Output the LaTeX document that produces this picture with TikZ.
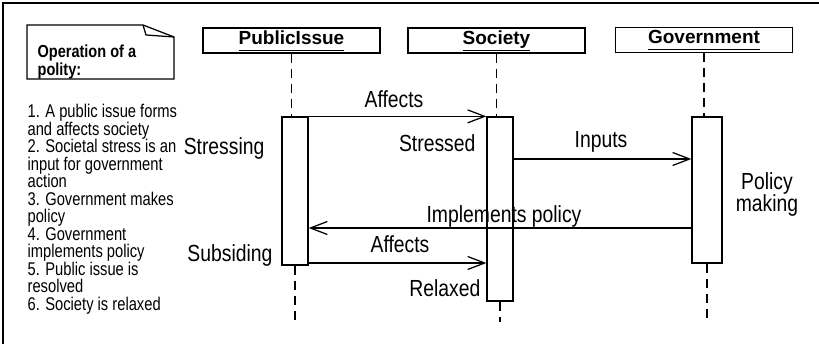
\documentclass[tikz,border=0pt]{standalone}
\usepackage{fontspec}
\setmainfont{Liberation Sans}
\newfontfamily\hdrfont{Liberation Sans}
\newfontfamily\notefont{Liberation Sans}[FakeStretch=0.835]
\newfontfamily\listfont{Liberation Sans}[FakeStretch=0.8]
\newfontfamily\lblfont{Liberation Sans}[FakeStretch=0.83]
\usetikzlibrary{arrows.meta,calc}
\newcommand{\hdrul}[1]{\underline{#1\vphantom{y}}}
\begin{document}
\begin{tikzpicture}[x=1pt,y=-1pt,line width=1.25pt,
  hdr/.style={draw,minimum width=177pt,minimum height=25pt,inner sep=0pt,
    font=\hdrfont\bfseries\fontsize{19}{19}\selectfont},
  bar/.style={draw,inner sep=0pt},
  life/.style={dash pattern=on 9pt off 6pt},
  msg/.style={-{Straight Barb[length=17pt,width=13pt]}},
  lbl/.style={inner sep=0pt,font=\lblfont\fontsize{23.3}{17}\selectfont},
  listtxt/.style={inner sep=0pt,align=left,font=\listfont\fontsize{18.4}{17.5}\selectfont},
  notetxt/.style={inner sep=0pt,align=left,font=\notefont\bfseries\fontsize{17.4}{18}\selectfont}]
\useasboundingbox (0,0) rectangle (819,344);
% frame
\draw[line width=1.5pt] (3,344) -- (3,3) -- (819,3);
% note
\draw (27,25) -- (143,25) -- (174,37) -- (174,79) -- (27,79) -- cycle;
\draw (143,25) .. controls (145,30) .. (146,35) -- (174,37);
\node[notetxt,anchor=base west] (note) at (37,76) {Operation of a\\polity:};
\node[listtxt,anchor=base west] (list) at (27,310.5) {1. A public issue forms\\and affects society\\2. Societal stress is an\\input for government\\action\\3. Government makes\\policy\\4. Government\\implements policy\\5. Public issue is\\resolved\\6. Society is relaxed};
% headers
\node[hdr] (hpi) at (291.5,40.5) {\hdrul{PublicIssue}};
\node[hdr] (hso) at (496.5,40.5) {\hdrul{Society}};
\node[hdr] (hgo) at (704,40) {\hdrul{Government}};
% activation bars
\node[bar,minimum width=26pt,minimum height=148pt] (bpi) at (295,191) {};
\node[bar,minimum width=26pt,minimum height=184pt] (bso) at (500,209) {};
\node[bar,minimum width=30pt,minimum height=146pt] (bgo) at (707,190) {};
% lifeline ends
\coordinate (epi) at (295,322);
\coordinate (eso) at (500,322);
\coordinate (ego) at (707,320);
\draw[life] (hpi.south) -- (hpi.south |- bpi.north);
\draw[life] (hso.south) -- (hso.south |- bso.north);
\draw[life] (hgo.south) -- (hgo.south |- bgo.north);
\draw[life] (bpi.south) -- (epi);
\draw[life] (bso.south) -- (eso);
\draw[life] (bgo.south) -- (ego);
% messages
\draw[msg] (bpi.north east) -- (bso.north west);
\draw[msg] (bso.east |- 0,159) -- (bgo.west |- 0,159);
\draw[msg] (bgo.west |- 0,228) -- (bpi.east |- 0,228);
\draw[msg] (bpi.east |- 0,263) -- (bso.west |- 0,263);
% labels
\node[lbl,anchor=base] (l1) at (394,108) {Affects};
\node[lbl,anchor=base] (l2) at (601,148) {Inputs};
\node[lbl,anchor=base] (l3) at (504,223) {Implements policy};
\node[lbl,anchor=base] (l4) at (400,252.5) {Affects};
\node[lbl,anchor=base east] (s1) at (265,155) {Stressing};
\node[lbl,anchor=base east] (s2) at (273,262) {Subsiding};
\node[lbl,anchor=base east] (s3) at (476,152) {Stressed};
\node[lbl,anchor=base east] (s4) at (481,297) {Relaxed};
\node[lbl,anchor=base,align=center] (s5) at (767,212) {Policy\\making};
\end{tikzpicture}
\end{document}
